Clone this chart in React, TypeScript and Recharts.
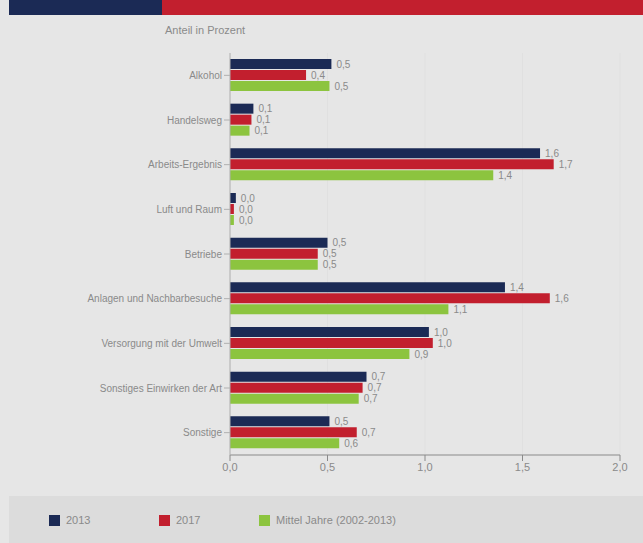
import React from 'react';
import { BarChart, Bar, XAxis, YAxis, CartesianGrid, LabelList } from 'recharts';

const categories = [
  'Alkohol',
  'Handelsweg',
  'Arbeits-Ergebnis',
  'Luft und Raum',
  'Betriebe',
  'Anlagen und Nachbarbesuche',
  'Versorgung mit der Umwelt',
  'Sonstiges Einwirken der Art',
  'Sonstige',
];
const values2013 = [0.52, 0.12, 1.59, 0.03, 0.5, 1.41, 1.02, 0.7, 0.51];
const values2017 = [0.39, 0.11, 1.66, 0.02, 0.45, 1.64, 1.04, 0.68, 0.65];
const valuesMean = [0.51, 0.1, 1.35, 0.02, 0.45, 1.12, 0.92, 0.66, 0.56];
const xTicks = [0, 0.5, 1, 1.5, 2];
const legendLabels = ['2013', '2017', 'Mittel Jahre (2002-2013)'];

const NAVY = '#1b2a55';
const RED = '#c21f2e';
const GREEN = '#8cc43f';
const FONT = '"Liberation Sans", Arial, sans-serif';

const data = categories.map((name, i) => ({
  name,
  a: values2013[i],
  b: values2017[i],
  c: valuesMean[i],
}));

const fmt = (v: any) => Number(v).toFixed(1).replace('.', ',');

const labelStyle = { fill: '#8a8a8a', fontSize: 10, fontFamily: FONT };

export default function App() {
  return (
    <div
      style={{
        position: 'absolute',
        left: 0,
        top: 0,
        width: 643,
        height: 543,
        background: '#e6e6e6',
        overflow: 'hidden',
        fontFamily: FONT,
      }}
    >
      {/* header stripe */}
      <div style={{ position: 'absolute', left: 9, top: 0, width: 153, height: 15, background: NAVY }} />
      <div style={{ position: 'absolute', left: 162, top: 0, width: 481, height: 15, background: RED }} />

      <div style={{ position: 'absolute', left: 165, top: 24, fontSize: 11, color: '#8a8a8a' }}>
        Anteil in Prozent
      </div>

      <div style={{ position: 'absolute', left: 0, top: 0 }}>
        <BarChart
          width={643}
          height={490}
          data={data}
          layout="vertical"
          margin={{ top: 53, right: 23, left: 0, bottom: 5 }}
          barCategoryGap={6}
          barGap={1}
        >
          <CartesianGrid horizontal={false} stroke="#e0e0e0" />
          <XAxis
            type="number"
            domain={[0, 2]}
            ticks={xTicks}
            tickFormatter={fmt}
            height={30}
            axisLine={{ stroke: '#8a8a8a' }}
            tickLine={{ stroke: '#8a8a8a' }}
            tick={{ fill: '#8a8a8a', fontSize: 11, fontFamily: FONT }}
          />
          <YAxis
            type="category"
            dataKey="name"
            width={230}
            axisLine={{ stroke: '#b0b0b0' }}
            tickLine={{ stroke: '#b0b0b0' }}
            tick={{ fill: '#8a8a8a', fontSize: 10, fontFamily: FONT }}
          />
          <Bar dataKey="a" fill={NAVY} isAnimationActive={false}>
            <LabelList dataKey="a" position="right" formatter={fmt} style={labelStyle} />
          </Bar>
          <Bar dataKey="b" fill={RED} isAnimationActive={false}>
            <LabelList dataKey="b" position="right" formatter={fmt} style={labelStyle} />
          </Bar>
          <Bar dataKey="c" fill={GREEN} isAnimationActive={false}>
            <LabelList dataKey="c" position="right" formatter={fmt} style={labelStyle} />
          </Bar>
        </BarChart>
      </div>

      {/* legend band */}
      <div
        style={{
          position: 'absolute',
          left: 9,
          top: 496,
          width: 634,
          height: 47,
          background: '#dcdcdc',
        }}
      >
        {legendLabels.map((label, i) => {
          const colors = [NAVY, RED, GREEN];
          const lefts = [40, 150, 250];
          return (
            <div
              key={label}
              style={{
                position: 'absolute',
                left: lefts[i],
                top: 18,
                display: 'flex',
                alignItems: 'center',
                fontSize: 11,
                color: '#8a8a8a',
              }}
            >
              <span style={{ width: 11, height: 11, background: colors[i], marginRight: 6, display: 'inline-block' }} />
              {label}
            </div>
          );
        })}
      </div>
    </div>
  );
}
